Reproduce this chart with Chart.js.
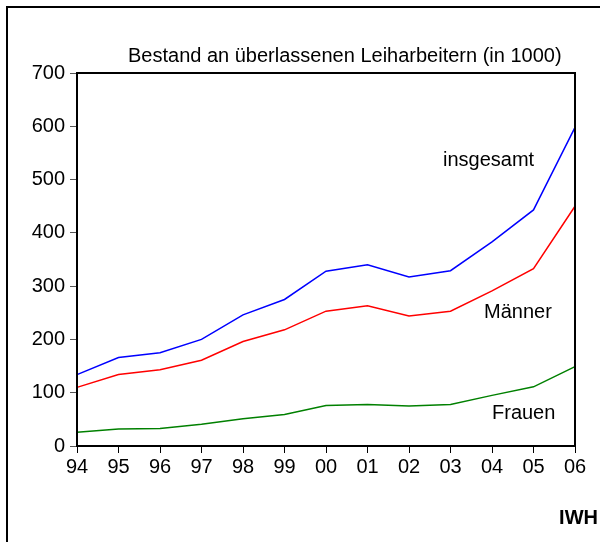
<!DOCTYPE html>
<html>
<head>
<meta charset="utf-8">
<script src="https://cdn.jsdelivr.net/npm/chart.js@4/dist/chart.umd.min.js"></script>
<style>
  html, body { margin: 0; padding: 0; background: #fff; }
  #wrap { position: relative; width: 600px; height: 542px; }
</style>
</head>
<body>
<div id="wrap"><canvas id="chart" width="600" height="542"></canvas></div>
<script>
// Data
const years = ['94', '95', '96', '97', '98', '99', '00', '01', '02', '03', '04', '05', '06'];
const insgesamt = [134, 166, 175, 200, 246, 275, 328, 340, 317, 329, 383, 443, 598];
const maenner = [110, 134, 143, 161, 196, 218, 253, 263, 244, 253, 291, 333, 450];
const frauen = [26, 32, 33, 41, 51, 59, 76, 78, 75, 78, 95, 111, 149];
const yTicks = [0, 100, 200, 300, 400, 500, 600, 700];

const font = 'Arial, "Liberation Sans", sans-serif';

// Frame, plot box and inline text labels
const decorations = {
    id: 'decorations',
    afterDraw(chart) {
        const ctx = chart.ctx;
        const a = chart.chartArea;
        ctx.save();
        // outer frame
        ctx.strokeStyle = '#000';
        ctx.lineWidth = 2;
        ctx.strokeRect(7, 7, 610, 560);
        // plot box
        ctx.strokeRect(a.left, a.top, a.right - a.left, a.bottom - a.top);

        ctx.fillStyle = '#000';
        ctx.textBaseline = 'middle';
        ctx.textAlign = 'left';
        ctx.font = '20px ' + font;
        ctx.fillText('Bestand an überlassenen Leiharbeitern (in 1000)', 128, 56);

        ctx.fillText('insgesamt', 443, 160);
        ctx.fillText('Männer', 484, 312);
        ctx.fillText('Frauen', 492, 413);

        ctx.font = 'bold 20px ' + font;
        ctx.textAlign = 'right';
        ctx.fillText('IWH', 598, 518);
        ctx.restore();
    }
};

const ctx = document.getElementById('chart').getContext('2d');
const chart = new Chart(ctx, {
    type: 'line',
    data: {
        labels: years,
        datasets: [
            { label: 'insgesamt', data: insgesamt, borderColor: '#0000ff' },
            { label: 'Männer', data: maenner, borderColor: '#ff0000' },
            { label: 'Frauen', data: frauen, borderColor: '#008000' }
        ]
    },
    options: {
        responsive: false,
        animation: false,
        layout: { padding: { top: 73, right: 25, left: 0, bottom: 0 } },
        elements: {
            line: { borderWidth: 1.5, tension: 0 },
            point: { radius: 0 }
        },
        plugins: {
            legend: { display: false },
            tooltip: { enabled: false }
        },
        scales: {
            x: {
                offset: false,
                grid: { drawOnChartArea: false, drawTicks: true, tickLength: 7, color: '#000' },
                border: { display: false },
                ticks: { color: '#000', font: { family: font, size: 20 }, padding: 2, maxRotation: 0, autoSkip: false },
                afterFit: scale => { scale.height = 96; }
            },
            y: {
                min: 0,
                max: 700,
                grid: { drawOnChartArea: false, drawTicks: true, tickLength: 7, color: '#555' },
                border: { display: false },
                afterBuildTicks: scale => { scale.ticks = yTicks.map(v => ({ value: v })); },
                ticks: { color: '#000', font: { family: font, size: 20 }, padding: 5 },
                afterFit: scale => { scale.width = 77; }
            }
        }
    },
    plugins: [decorations]
});
</script>
</body>
</html>
